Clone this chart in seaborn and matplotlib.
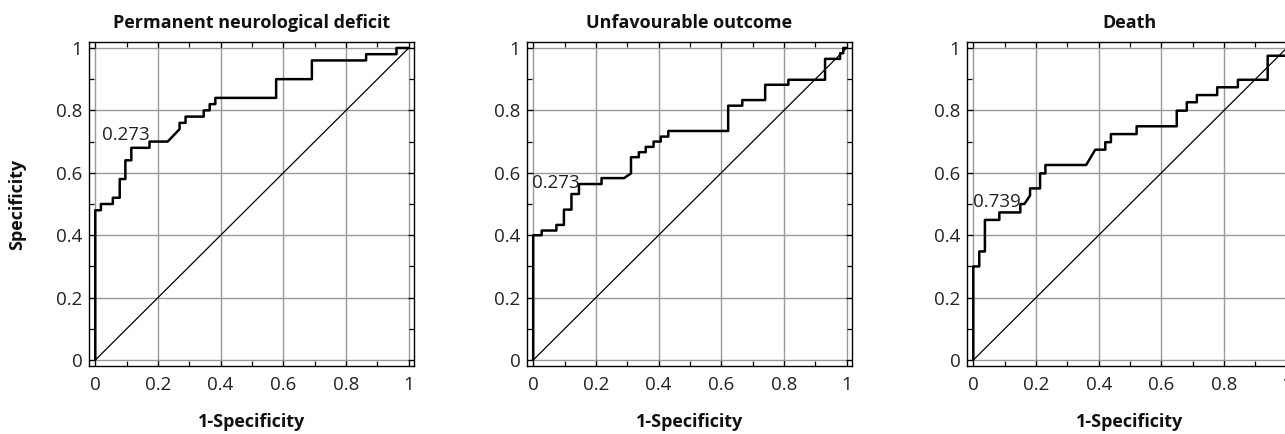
import matplotlib
matplotlib.use("Agg")
import matplotlib.pyplot as plt
import seaborn as sns
from matplotlib.ticker import MultipleLocator, FuncFormatter

# Wartości (wierzchołki krzywych ROC)
titles = ["Permanent neurological deficit", "Unfavourable outcome", "Death"]
cutoffs = ["0.273", "0.273", "0.739"]
cutoff_pos = [(0.096, 0.721), (0.071, 0.567), (0.074, 0.506)]

fpr_pnd = [0, 0, 0.018, 0.018, 0.056, 0.056, 0.078, 0.078, 0.096, 0.096, 0.115, 0.115,
           0.173, 0.173, 0.231, 0.269, 0.269, 0.288, 0.288, 0.346, 0.346, 0.365, 0.365,
           0.383, 0.383, 0.577, 0.577, 0.691, 0.691, 0.864, 0.864, 0.961, 0.961, 1.0]
tpr_pnd = [0, 0.48, 0.48, 0.50, 0.50, 0.52, 0.52, 0.58, 0.58, 0.64, 0.64, 0.68,
           0.68, 0.70, 0.70, 0.74, 0.76, 0.76, 0.78, 0.78, 0.80, 0.80, 0.82,
           0.82, 0.84, 0.84, 0.90, 0.90, 0.96, 0.96, 0.98, 0.98, 1.0, 1.0]

fpr_unf = [0, 0, 0.027, 0.027, 0.074, 0.074, 0.098, 0.098, 0.122, 0.122, 0.146, 0.146,
           0.218, 0.218, 0.290, 0.312, 0.312, 0.337, 0.337, 0.359, 0.359, 0.384, 0.384,
           0.407, 0.407, 0.431, 0.431, 0.622, 0.622, 0.667, 0.667, 0.740, 0.740, 0.814,
           0.814, 0.931, 0.931, 0.979, 0.979, 0.989, 0.989, 1.0]
tpr_unf = [0, 0.40, 0.40, 0.415, 0.415, 0.433, 0.433, 0.482, 0.482, 0.532, 0.532, 0.564,
           0.564, 0.583, 0.583, 0.598, 0.650, 0.650, 0.666, 0.666, 0.683, 0.683, 0.700,
           0.700, 0.716, 0.716, 0.734, 0.734, 0.815, 0.815, 0.833, 0.833, 0.882, 0.882,
           0.898, 0.898, 0.965, 0.965, 0.983, 0.983, 1.0, 1.0]

fpr_death = [0, 0, 0.019, 0.019, 0.037, 0.037, 0.083, 0.083, 0.150, 0.150, 0.163, 0.181,
             0.181, 0.213, 0.213, 0.230, 0.230, 0.360, 0.389, 0.421, 0.421, 0.439, 0.439,
             0.521, 0.521, 0.649, 0.649, 0.681, 0.681, 0.713, 0.713, 0.778, 0.778, 0.844,
             0.844, 0.939, 0.939, 1.0, 1.0]
tpr_death = [0, 0.30, 0.30, 0.348, 0.348, 0.449, 0.449, 0.473, 0.473, 0.50, 0.50, 0.527,
             0.55, 0.55, 0.598, 0.598, 0.625, 0.625, 0.674, 0.674, 0.698, 0.698, 0.724,
             0.724, 0.749, 0.749, 0.799, 0.799, 0.826, 0.826, 0.849, 0.849, 0.874, 0.874,
             0.898, 0.898, 0.975, 0.975, 1.0]

curves = [(fpr_pnd, tpr_pnd), (fpr_unf, tpr_unf), (fpr_death, tpr_death)]
diag = [0, 1]

sns.set_theme(style="ticks")
plt.rcParams['font.family'] = ['Open Sans', 'DejaVu Sans']

fig = plt.figure(figsize=(12.85, 4.34), dpi=100)
lefts = [0.0695, 0.4103, 0.7528]
fmt = FuncFormatter(lambda v, p: "%g" % round(v, 2))

for i, left in enumerate(lefts):
    ax = fig.add_axes([left, 0.1567, 0.2525, 0.7465])
    fpr, tpr = curves[i]
    sns.lineplot(x=diag, y=diag, ax=ax, color="black", lw=0.9, sort=False, estimator=None)
    sns.lineplot(x=fpr, y=tpr, ax=ax, color="black", lw=1.8, sort=False, estimator=None)
    ax.text(cutoff_pos[i][0], cutoff_pos[i][1], cutoffs[i], fontsize=13.5,
            ha="center", va="center", color="#222222")
    ax.set_xlim(-0.019, 1.016)
    ax.set_ylim(-0.019, 1.019)
    ax.xaxis.set_major_locator(MultipleLocator(0.2))
    ax.yaxis.set_major_locator(MultipleLocator(0.2))
    ax.xaxis.set_minor_locator(MultipleLocator(0.1))
    ax.yaxis.set_minor_locator(MultipleLocator(0.1))
    ax.xaxis.set_major_formatter(fmt)
    ax.yaxis.set_major_formatter(fmt)
    ax.grid(True, which="major", color="#9a9a9a", lw=1.0)
    ax.set_axisbelow(True)
    ax.tick_params(which="both", direction="in", top=True, right=True,
                   color="black", width=0.9, labelsize=13.5, labelcolor="#222222")
    ax.tick_params(which="major", length=4)
    ax.tick_params(which="minor", length=3.5)
    ax.tick_params(axis="x", pad=7)
    ax.tick_params(axis="y", pad=5)
    for s in ax.spines.values():
        s.set_color("black")
        s.set_linewidth(1.0)
    ax.set_title(titles[i], fontsize=13, fontweight="bold", pad=10, color="#111111")
    ax.set_xlabel("1-Specificity", fontsize=13, fontweight="bold", labelpad=14, color="#111111")
    ax.set_ylabel("")

fig.text(17 / 1285, 1 - 204 / 434, "Specificity", rotation=90, ha="center", va="center",
         fontsize=13, fontweight="bold", color="#111111")

fig.savefig("out.png", dpi=100)
